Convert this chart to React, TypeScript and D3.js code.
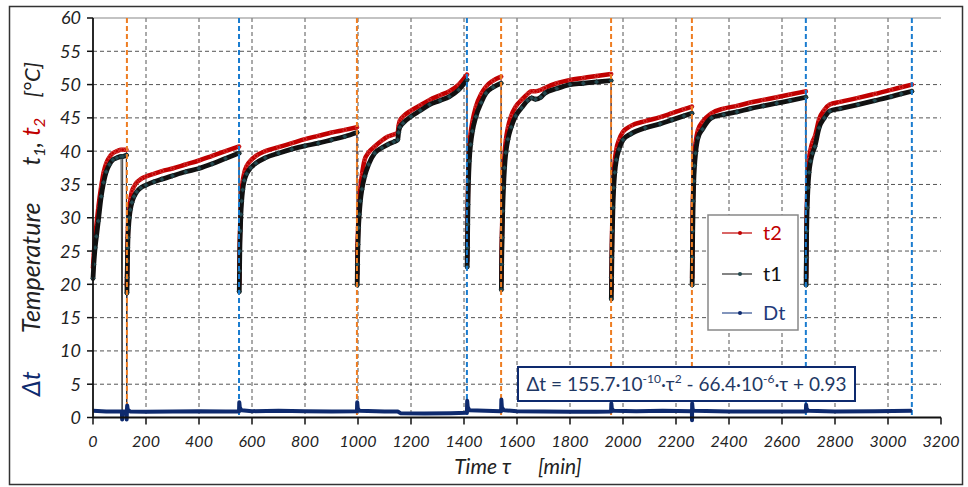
import React from 'react';
import * as d3 from 'd3';

const W = 968;
const H = 487;

// Cycle starts (min)
const segmentStarts = [0, 128, 552, 997, 1412, 1541, 1956, 2261, 2691];

// Vertical event markers (min) and their kind
const eventTau = [128, 551, 996, 1411, 1540, 1955, 2260, 2690, 3090];
const eventKind = ['a', 'b', 'a', 'b', 'a', 'a', 'a', 'b', 'b'];

const xTicks = d3.range(0, 3201, 200);
const yTicks = d3.range(0, 61, 5);

// time, t1, t2 (°C); null = no reading
const tau = [
  0, 3, 8, 13, 20, 31, 40, 50, 62, 75, 90, 106, 110, 112, 126, 127,
  128, 129, 130, 131, 132, 134, 137, 141, 147, 155, 165, 180, 200, 230, 260, 300, 350, 400, 450, 500, 551,
  552, 553, 554, 556, 558, 561, 565, 571, 580, 595, 615, 650, 700, 750, 800, 850, 900, 950, 996,
  997, 998, 1000, 1002, 1005, 1009, 1015, 1025, 1040, 1063, 1090, 1113, 1135, 1150, 1153, 1158, 1170, 1200, 1235, 1270, 1310, 1345, 1380, 1411,
  1412, 1413, 1414, 1415, 1417, 1420, 1425, 1432, 1445, 1465, 1483, 1510, 1540,
  1541, 1542, 1544, 1546, 1549, 1553, 1558, 1566, 1578, 1595, 1617, 1640, 1655, 1670, 1690, 1705, 1750, 1800, 1850, 1900, 1955,
  1956, 1957, 1958, 1960, 1962, 1965, 1969, 1975, 1985, 2000, 2030, 2084, 2140, 2185, 2230, 2260,
  2261, 2262, 2263, 2265, 2267, 2270, 2274, 2283, 2300, 2334, 2380, 2430, 2480, 2530, 2580, 2630, 2690,
  2691, 2692, 2693, 2695, 2698, 2702, 2708, 2715, 2724, 2740, 2760, 2780, 2820, 2887, 2950, 3012, 3050, 3090,
];
const t1 = [
  20.9, 23, 25.5, 27.2, 29.5, 33.2, 35.3, 36.9, 38, 38.7, 39, 39.2, -0.3, 39.2, 39.4, -0.3,
  18.7, 21, 23.5, 25.5, 27, 28.5, 30, 31.2, 32.3, 33.2, 33.9, 34.5, 34.9, 35.4, 35.8, 36.3, 36.9, 37.4, 38.1, 38.9, 39.7,
  18.9, 22, 25, 28, 30.5, 32.5, 34.2, 35.6, 36.6, 37.5, 38.2, 39, 39.7, 40.3, 40.8, 41.2, 41.7, 42.2, 42.8,
  19.9, 23, 26, 28.5, 30.5, 32.5, 34.3, 36.2, 38, 39.7, 40.5, 41, 41.4, 41.7, 42.8, 43.6, 44.2, 45.2, 46.1, 47, 47.6, 48.2, 49.2, 50.7,
  22.6, 25.5, 29, 32, 35.5, 38.5, 41, 43, 45.2, 47.3, 48.7, 49.6, 50.2,
  19.2, 23, 27, 31, 34.5, 37.5, 39.8, 41.8, 43.6, 45.3, 46.5, 47.6, 48, 47.8, 48.1, 48.7, 49.4, 50, 50.2, 50.4, 50.6,
  17.8, 21, 24, 28, 31.5, 34.5, 36.8, 38.7, 40.3, 41.7, 42.6, 43.5, 44.1, 44.7, 45.3, 45.7,
  19.9, 24, 28, 32.5, 35.5, 37.8, 39.7, 42, 43.3, 45, 45.5, 45.9, 46.4, 46.8, 47.2, 47.6, 48.1,
  19.9, 24, 28, 31.5, 34.5, 36.8, 38.5, 39.7, 40.7, 43.5, 45, 46, 46.4, 47, 47.6, 48.2, 48.6, 49,
];
const t2 = [
  22.5, 24.5, 27, 29, 31.5, 34.7, 36.8, 38.2, 39.1, 39.7, 40, 40.2, null, 40.2, 40.2, -0.3,
  19.8, 22, 24.5, 26.5, 28.5, 30, 31.5, 32.8, 34, 34.7, 35.3, 35.8, 36.2, 36.6, 37, 37.4, 38, 38.6, 39.3, 40, 40.7,
  20, 23.5, 26.5, 29.5, 32, 34, 35.5, 36.8, 37.8, 38.6, 39.3, 40, 40.6, 41.2, 41.8, 42.3, 42.8, 43.2, 43.6,
  21.5, 25, 28, 30.5, 32.5, 34.5, 36.5, 38.7, 39.8, 40.7, 41.6, 42.2, 42.5, 42.8, 43.8, 44.6, 45.2, 46.1, 46.9, 47.7, 48.4, 49, 50, 51.5,
  23.5, 27, 31, 34.5, 38, 40.5, 42.7, 44.5, 46.7, 48.6, 49.7, 50.6, 51.2,
  20.5, 25, 29, 33, 36.5, 39.5, 41.7, 43.6, 45.3, 46.7, 47.7, 48.6, 49, 49, 49.2, 49.5, 50.2, 50.7, 51, 51.3, 51.6,
  19, 22.5, 26, 30, 33.5, 36.5, 38.6, 40.3, 41.7, 42.9, 43.8, 44.5, 45.1, 45.7, 46.3, 46.7,
  21, 26, 30.5, 34.5, 37.5, 39.7, 41.3, 43.2, 44.4, 45.7, 46.4, 46.8, 47.3, 47.7, 48.1, 48.5, 49,
  21, 26, 30, 33.5, 36.5, 38.8, 40.3, 41.4, 42.2, 44.8, 46.2, 47, 47.4, 48, 48.6, 49.2, 49.6, 50,
];

// Dt series
const dtTau = [
  0, 50, 100, 109, 110, 112, 126, 127, 128, 129, 131, 140, 200, 300, 400, 500, 551,
  552, 554, 560, 600, 700, 800, 900, 996, 997, 999, 1005, 1100, 1150, 1160, 1250, 1350, 1411,
  1412, 1414, 1420, 1480, 1540, 1541, 1543, 1550, 1600, 1700, 1800, 1900, 1955,
  1956, 1958, 1965, 2050, 2150, 2260, 2260.5, 2261, 2263, 2270, 2400, 2550, 2690,
  2691, 2693, 2700, 2800, 2950, 3090,
];
const dtVal = [
  1.0, 0.9, 0.9, 0.9, -0.3, 0.9, 0.9, -0.3, 1.1, 1.8, 1.2, 0.9, 0.85, 0.9, 0.95, 0.9, 0.9,
  2.3, 1.5, 1.1, 0.95, 1.0, 0.95, 0.9, 0.95, 2.3, 1.4, 1.0, 0.9, 0.9, 0.65, 0.6, 0.65, 0.7,
  2.5, 1.6, 1.1, 1.0, 0.95, 2.7, 1.5, 1.1, 0.95, 0.9, 0.85, 0.85, 0.9,
  2.1, 1.3, 1.0, 0.95, 1.0, 0.95, -0.4, 2.1, 1.2, 1.0, 0.9, 0.9, 0.9,
  1.9, 1.3, 1.0, 0.9, 0.95, 1.0,
];

const FONT = 'Lato, "Open Sans", "DejaVu Sans", sans-serif';
const RED = '#c00000';
const NAVY = '#0e2a6e';
const KIND_COLOR: Record<string, string> = { a: '#ee7d22', b: '#1a7ccf' };

type P = { x: number; v: number | null };

export default function App() {
  const x = d3.scaleLinear().domain([0, 3200]).range([93, 941]);
  const y = d3.scaleLinear().domain([0, 60]).range([417.5, 18]);

  const s1: P[] = tau.map((t, i) => ({ x: t, v: t1[i] }));
  const s2: P[] = tau.map((t, i) => ({ x: t, v: t2[i] }));
  const sdt: P[] = dtTau.map((t, i) => ({ x: t, v: dtVal[i] }));

  const thin = d3
    .line<P>()
    .defined((d) => d.v !== null)
    .x((d) => x(d.x))
    .y((d) => y(d.v as number));
  const band = d3
    .line<P>()
    .x((d) => x(d.x))
    .y((d) => y(d.v as number))
    .curve(d3.curveMonotoneX);

  const segOf = (t: number) => d3.bisectRight(segmentStarts, t) - 1;
  const bands = (s: P[]) =>
    segmentStarts.map((_, k) => band(s.filter((d) => d.v !== null && (d.v as number) > 2 && segOf(d.x) === k)) || '');

  const yMid = (y(0) + y(60)) / 2;

  return (
    <svg
      width={W}
      height={H}
      style={{ position: 'absolute', left: 0, top: 0, background: '#fff' }}
      fontFamily={FONT}
    >
      <rect x={9.5} y={6.5} width={953} height={478} fill="#fff" stroke="#333" strokeWidth={1.5} />

      {/* grid */}
      {yTicks
        .filter((v) => v > 0 && v < 60)
        .map((v) => (
          <line key={'gy' + v} x1={x(0)} x2={x(3200)} y1={y(v)} y2={y(v)} stroke="#555" strokeWidth={1} strokeDasharray="4,3" />
        ))}
      {xTicks
        .filter((v) => v > 0 && v < 3200)
        .map((v) => (
          <line key={'gx' + v} x1={x(v)} x2={x(v)} y1={y(60)} y2={y(0)} stroke="#555" strokeWidth={1} strokeDasharray="4,3" />
        ))}
      <line x1={x(0)} x2={x(3200)} y1={y(60)} y2={y(60)} stroke="#888" strokeWidth={1.2} />

      {/* t2 */}
      <path d={thin(s2) || ''} fill="none" stroke="#a8342a" strokeWidth={1} />
      {bands(s2).map((d, i) => (
        <path key={'b2' + i} d={d} fill="none" stroke={RED} strokeWidth={4.5} strokeLinecap="round" />
      ))}
      {s2
        .filter((d) => d.v !== null && (d.v as number) > 2)
        .map((d, i) => (
          <circle key={'m2' + i} cx={x(d.x)} cy={y(d.v as number)} r={1.8} fill={RED} stroke="#e06060" strokeWidth={0.5} />
        ))}

      {/* t1 */}
      <path d={thin(s1) || ''} fill="none" stroke="#333" strokeWidth={1} />
      {bands(s1).map((d, i) => (
        <path key={'b1' + i} d={d} fill="none" stroke="#111" strokeWidth={4.8} strokeLinecap="round" />
      ))}
      {s1
        .filter((d) => (d.v as number) > 2)
        .map((d, i) => {
          const cx = x(d.x);
          const cy = y(d.v as number);
          return (
            <path
              key={'m1' + i}
              d={`M${cx},${cy - 2.4}L${cx + 2.4},${cy}L${cx},${cy + 2.4}L${cx - 2.4},${cy}Z`}
              fill="#244a50"
              stroke="#1a3035"
              strokeWidth={0.5}
            />
          );
        })}

      {/* event lines */}
      {eventTau.map((t, i) => (
        <line
          key={'ev' + i}
          x1={x(t)}
          x2={x(t)}
          y1={y(60)}
          y2={y(0)}
          stroke={KIND_COLOR[eventKind[i]]}
          strokeWidth={2}
          strokeDasharray="5,3"
        />
      ))}

      {/* Dt */}
      <path d={thin(sdt) || ''} fill="none" stroke={NAVY} strokeWidth={4} strokeLinejoin="round" />

      {/* axes */}
      <line x1={x(0)} x2={x(0)} y1={y(60)} y2={y(0)} stroke="#111" strokeWidth={1.8} />
      <line x1={x(0)} x2={x(3200)} y1={y(0)} y2={y(0)} stroke="#111" strokeWidth={1.8} />
      {yTicks.map((v) => (
        <g key={'ty' + v}>
          <line x1={x(0) - 6} x2={x(0)} y1={y(v)} y2={y(v)} stroke="#111" strokeWidth={1.5} />
          <text x={81} y={y(v)} dy="0.36em" textAnchor="end" fontSize={18} fontStyle="italic" fill="#222">
            {v}
          </text>
        </g>
      ))}
      {xTicks.map((v) => (
        <g key={'tx' + v}>
          <line x1={x(v)} x2={x(v)} y1={y(0)} y2={y(0) + 7} stroke="#111" strokeWidth={1.5} />
          <text x={x(v)} y={447} textAnchor="middle" fontSize={16} fontStyle="italic" fill="#222">
            {v}
          </text>
        </g>
      ))}

      {/* x title */}
      <text x={497} y={474} textAnchor="end" fontSize={21} fontStyle="italic" fill="#222">
        Time
      </text>
      <text x={502} y={474} fontSize={21} fontStyle="italic" fill="#222">
        τ
      </text>
      <text x={538} y={474} fontSize={21} fontStyle="italic" fill="#222">
        [min]
      </text>

      {/* y title */}
      <g transform={`translate(40, ${yMid}) rotate(-90)`} fontStyle="italic" fontSize={25}>
        <text x={-166} y={0} textAnchor="middle" fill={NAVY}>
          Δt
        </text>
        <text x={-50} y={0} textAnchor="middle" fill="#222">
          Temperature
        </text>
        <text x={76} y={0} textAnchor="middle" fill="#222">
          t<tspan fontSize={16} dy={5}>1</tspan>
          <tspan dy={-5}>, </tspan>
          <tspan fill={RED}>t</tspan>
          <tspan fill={RED} fontSize={16} dy={5}>2</tspan>
        </text>
        <text x={138} y={0} textAnchor="middle" fill="#222" fontSize={22}>
          [°C]
        </text>
      </g>

      {/* legend */}
      <rect x={708} y={215} width={90} height={115} fill="#fff" stroke="#888" strokeWidth={1.5} />
      {[
        { label: 't2', color: RED, text: RED, dot: RED, yy: 233 },
        { label: 't1', color: '#333', text: '#111', dot: '#244a50', yy: 274 },
        { label: 'Dt', color: '#2f4f8f', text: '#1f3a7a', dot: NAVY, yy: 313 },
      ].map((e) => (
        <g key={e.label}>
          <line x1={722} x2={752} y1={e.yy} y2={e.yy} stroke={e.color} strokeWidth={1.2} />
          <circle cx={740} cy={e.yy} r={2} fill={e.dot} />
          <text x={763} y={e.yy} dy="0.35em" fontSize={20} fill={e.text}>
            {e.label}
          </text>
        </g>
      ))}

      {/* annotation */}
      <rect x={518} y={367} width={337} height={34} fill="#fff" stroke={NAVY} strokeWidth={2} />
      <text x={686.5} y={391} textAnchor="middle" fontSize={19} fill="#1f3864">
        Δt = 155.7·10<tspan fontSize={12} dy={-8}>-10</tspan>
        <tspan dy={8}>·τ</tspan>
        <tspan fontSize={12} dy={-8}>2</tspan>
        <tspan dy={8}> - 66.4·10</tspan>
        <tspan fontSize={12} dy={-8}>-6</tspan>
        <tspan dy={8}>·τ + 0.93</tspan>
      </text>
    </svg>
  );
}
